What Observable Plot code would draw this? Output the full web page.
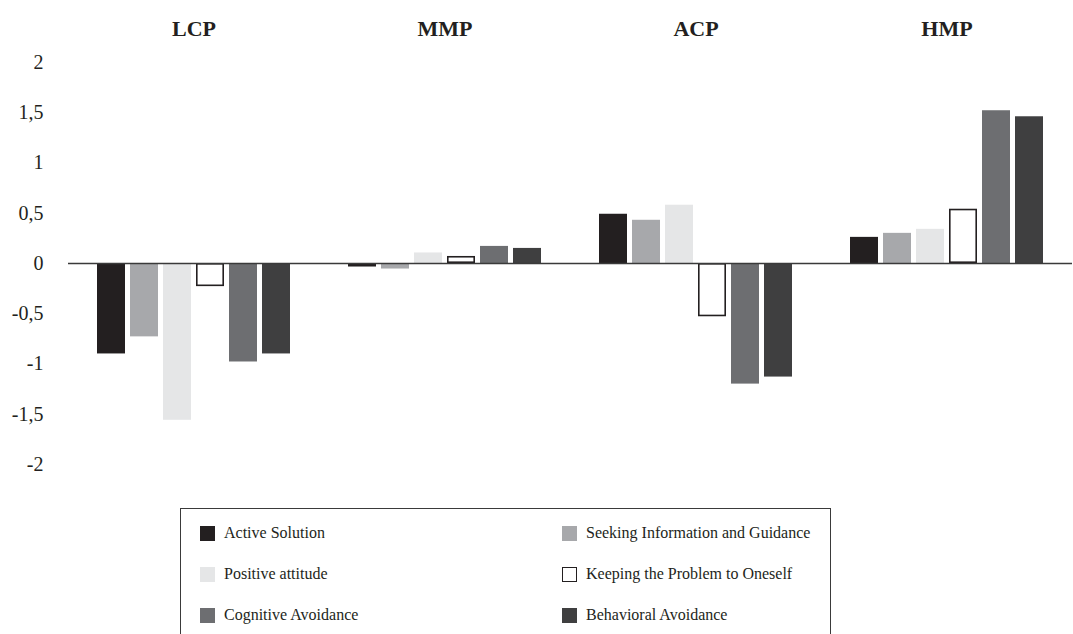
<!DOCTYPE html>
<html>
<head>
<meta charset="utf-8">
<script src="https://cdn.jsdelivr.net/npm/d3@7"></script>
<script src="https://cdn.jsdelivr.net/npm/@observablehq/plot@0.6"></script>
<style>
  html, body { margin: 0; padding: 0; background: #fff; overflow: hidden; }
  #wrap { position: relative; width: 1073px; height: 634px; }
  #legend { position: absolute; left: 180px; top: 508px; width: 651px; height: 160px;
            border: 1.5px solid #3a3a3a; box-sizing: border-box;
            font-family: "Liberation Serif", "Times New Roman", Times, "DejaVu Serif", serif;
            font-size: 16px; color: #231f20; }
  .item { position: absolute; display: flex; align-items: center; height: 20px; }
  .sw { width: 15px; height: 15px; box-sizing: border-box; margin-right: 9px; }
  svg text { font-family: "Liberation Serif", "Times New Roman", Times, "DejaVu Serif", serif; }
</style>
</head>
<body>
<div id="wrap"><div id="chart"></div><div id="legend"></div></div>
<script>
const groups = ["LCP", "MMP", "ACP", "HMP"];
const series = [
  "Active Solution",
  "Seeking Information and Guidance",
  "Positive attitude",
  "Keeping the Problem to Oneself",
  "Cognitive Avoidance",
  "Behavioral Avoidance"
];
// values per series, in order of groups (LCP, MMP, ACP, HMP)
const activeSolution   = [-0.90, -0.035, 0.49, 0.26];
const seekingInfo      = [-0.73, -0.055, 0.43, 0.30];
const positiveAttitude = [-1.56, 0.105, 0.58, 0.34];
const keepingProblem   = [-0.23, 0.07, -0.53, 0.54];
const cognitiveAvoid   = [-0.98, 0.17, -1.20, 1.52];
const behavioralAvoid  = [-0.90, 0.15, -1.13, 1.46];
const yTicks = [-2, -1.5, -1, -0.5, 0, 0.5, 1, 1.5, 2];

const seriesValues = [activeSolution, seekingInfo, positiveAttitude, keepingProblem, cognitiveAvoid, behavioralAvoid];
const colors = ["#231f20", "#a7a8ab", "#e5e6e7", "#ffffff", "#6d6e71", "#3f3f40"];

const data = [];
groups.forEach((g, gi) => {
  series.forEach((s, si) => {
    data.push({group: g, series: s, value: seriesValues[si][gi]});
  });
});

const keepName = series[3];
const serifFont = "'Liberation Serif', 'Times New Roman', Times, 'DejaVu Serif', serif";

const chart = Plot.plot({
  width: 1073,
  height: 500,
  marginLeft: 66,
  marginRight: 0,
  marginTop: 62,
  marginBottom: 36,
  style: {fontFamily: serifFont, color: "#231f20", background: "#fff"},
  fx: {domain: groups, padding: 0, axis: null},
  x: {domain: series, paddingInner: 0.15, paddingOuter: 0.85, axis: null},
  y: {domain: [-2, 2]},
  color: {domain: series, range: colors},
  marks: [
    Plot.barY(data.filter(d => d.series !== keepName), {fx: "group", x: "series", y: "value", fill: "series"}),
    Plot.barY(data.filter(d => d.series === keepName), {fx: "group", x: "series", y: "value", fill: "#ffffff", stroke: "#231f20", strokeWidth: 1.6, inset: 0.8}),
    Plot.ruleY([0], {stroke: "#3a3a3a", strokeWidth: 1.5}),
    Plot.axisY({ticks: yTicks, tickSize: 0, tickPadding: 25, fontSize: 20,
                tickFormat: d => String(d).replace(".", ","), label: null}),
    Plot.text(groups, {fx: d => d, text: d => d, frameAnchor: "top", dy: -42,
                       fontWeight: "bold", fontSize: 22, fill: "#231f20"})
  ]
});
document.getElementById("chart").appendChild(chart);

// legend
const legend = document.getElementById("legend");
const colX = [19, 381];
const rowY = [14, 55, 96];
series.forEach((s, i) => {
  const item = document.createElement("div");
  item.className = "item";
  item.style.left = colX[i % 2] + "px";
  item.style.top = rowY[Math.floor(i / 2)] + "px";
  const sw = document.createElement("div");
  sw.className = "sw";
  sw.style.background = colors[i];
  if (s === keepName) sw.style.border = "1.5px solid #231f20";
  const lab = document.createElement("span");
  lab.textContent = s;
  item.appendChild(sw);
  item.appendChild(lab);
  legend.appendChild(item);
});
</script>
</body>
</html>
